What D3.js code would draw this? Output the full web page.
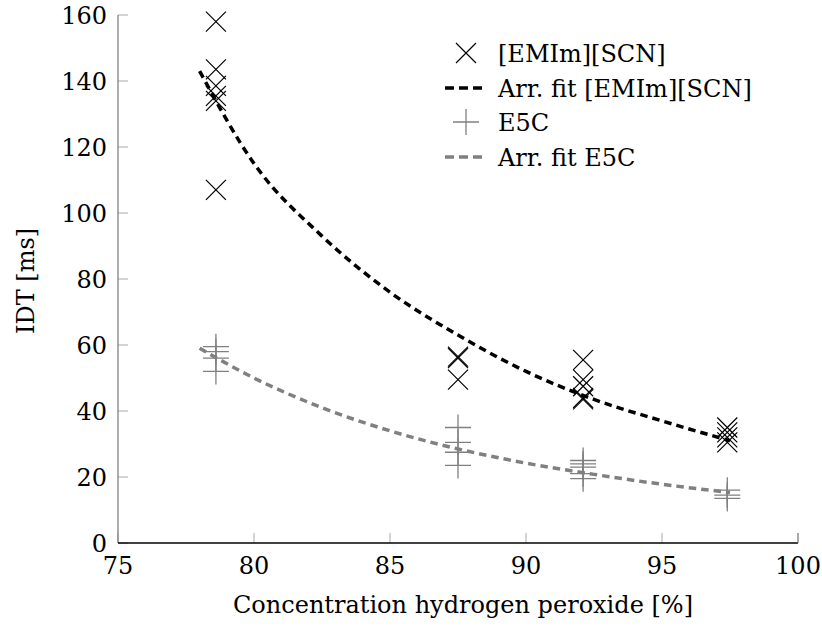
<!DOCTYPE html>
<html>
<head>
<meta charset="utf-8">
<script src="https://cdn.jsdelivr.net/npm/d3@7"></script>
<style>
  body { margin: 0; background: #fff; }
</style>
</head>
<body>
<script>
// measured IDT values
var emimX = [78.6, 78.6, 78.6, 78.6, 78.6, 78.6, 87.5, 87.5, 87.5, 92.1, 92.1, 92.1, 92.1, 92.1, 97.4, 97.4, 97.4, 97.4];
var emimY = [158, 143.5, 138.5, 135.5, 134, 107, 56.5, 56, 49.5, 55.5, 49.5, 47.5, 44, 43.5, 35, 33.5, 32, 30.5];
var e5cX = [78.6, 78.6, 78.6, 78.6, 87.5, 87.5, 87.5, 87.5, 92.1, 92.1, 92.1, 92.1, 92.1, 97.4, 97.4, 97.4];
var e5cY = [59.5, 58, 56, 52, 35, 30.5, 27.5, 23.5, 25, 24, 23, 21, 19.5, 16, 14.5, 13.5];

// fit curves
var fitX = [78, 80, 82.5, 85, 87.5, 90, 92.5, 95, 97.5];
var fitEmim = [143, 115, 93, 76, 63, 52, 43.5, 37, 31];
var fitE5c = [59, 50, 41, 34, 28.5, 24.2, 20.8, 17.8, 15.3];

var xTicks = [75, 80, 85, 90, 95, 100];
var yTicks = [0, 20, 40, 60, 80, 100, 120, 140, 160];
var legendLabels = ["[EMIm][SCN]", "Arr. fit [EMIm][SCN]", "E5C", "Arr. fit E5C"];

var width = 822, height = 628;
var gray = "#808080";
var font = "'DejaVu Serif', 'Liberation Serif', serif";

var svg = d3.select("body").append("svg")
    .attr("width", width)
    .attr("height", height)
    .style("font-family", font);

var x = d3.scaleLinear().domain([75, 100]).range([118, 798]);
var y = d3.scaleLinear().domain([0, 160]).range([543, 15]);

// ticks (inside, gray)
svg.selectAll(".xt").data(xTicks).enter().append("line")
    .attr("x1", d => x(d)).attr("x2", d => x(d))
    .attr("y1", y(0)).attr("y2", y(0) - 10)
    .attr("stroke", "#aaa").attr("stroke-width", 1);
svg.selectAll(".yt").data(yTicks).enter().append("line")
    .attr("x1", x(75)).attr("x2", x(75) + 10)
    .attr("y1", d => y(d)).attr("y2", d => y(d))
    .attr("stroke", "#aaa").attr("stroke-width", 1);

// axis lines
svg.append("line")
    .attr("x1", x(75)).attr("x2", x(75))
    .attr("y1", y(0)).attr("y2", y(160))
    .attr("stroke", gray).attr("stroke-width", 1.3);
svg.append("line")
    .attr("x1", x(75)).attr("x2", x(100))
    .attr("y1", y(0)).attr("y2", y(0))
    .attr("stroke", "#000").attr("stroke-width", 1.3);
svg.append("line")
    .attr("x1", x(100)).attr("x2", x(100))
    .attr("y1", y(0)).attr("y2", y(0) - 10)
    .attr("stroke", gray).attr("stroke-width", 1);

// tick labels
svg.selectAll(".xl").data(xTicks).enter().append("text")
    .attr("x", d => x(d)).attr("y", y(0) + 31)
    .attr("text-anchor", "middle")
    .style("font-size", "24px")
    .text(d => d);
svg.selectAll(".yl").data(yTicks).enter().append("text")
    .attr("x", x(75) - 11).attr("y", d => y(d) + 9)
    .attr("text-anchor", "end")
    .style("font-size", "24px")
    .text(d => d);

// axis titles
svg.append("text")
    .attr("x", 463).attr("y", 613)
    .attr("text-anchor", "middle")
    .style("font-size", "24px")
    .text("Concentration hydrogen peroxide [%]");
svg.append("text")
    .attr("transform", "translate(34,281) rotate(-90)")
    .attr("text-anchor", "middle")
    .style("font-size", "24px")
    .text("IDT [ms]");

// fit lines
var line = d3.line().curve(d3.curveMonotoneX);
var emimFit = fitX.map((d, i) => [x(d), y(fitEmim[i])]);
var e5cFit = fitX.map((d, i) => [x(d), y(fitE5c[i])]);

svg.append("path")
    .attr("d", line(e5cFit))
    .attr("fill", "none").attr("stroke", gray)
    .attr("stroke-width", 3.5).attr("stroke-dasharray", "7.5 5");
svg.append("path")
    .attr("d", line(emimFit))
    .attr("fill", "none").attr("stroke", "#000")
    .attr("stroke-width", 3.5).attr("stroke-dasharray", "7.5 5");

// markers
function cross(g, cx, cy) {
  var r = 10;
  g.append("path")
      .attr("d", "M" + (cx - r) + "," + (cy - r) + "L" + (cx + r) + "," + (cy + r) +
                 "M" + (cx - r) + "," + (cy + r) + "L" + (cx + r) + "," + (cy - r))
      .attr("stroke", "#000").attr("stroke-width", 1.2).attr("fill", "none");
}
function plus(g, cx, cy) {
  var r = 13;
  g.append("path")
      .attr("d", "M" + (cx - r) + "," + cy + "L" + (cx + r) + "," + cy +
                 "M" + cx + "," + (cy - r) + "L" + cx + "," + (cy + r))
      .attr("stroke", gray).attr("stroke-width", 1.3).attr("fill", "none");
}

var marks = svg.append("g");
e5cX.forEach((d, i) => plus(marks, x(d), y(e5cY[i])));
emimX.forEach((d, i) => cross(marks, x(d), y(emimY[i])));

// legend
var leg = svg.append("g");
var rowY = [53, 88, 122, 157];
cross(leg, 466, rowY[0]);
leg.append("line").attr("x1", 445).attr("x2", 485).attr("y1", rowY[1]).attr("y2", rowY[1])
    .attr("stroke", "#000").attr("stroke-width", 3.5).attr("stroke-dasharray", "9 5");
plus(leg, 466, rowY[2]);
leg.append("line").attr("x1", 445).attr("x2", 485).attr("y1", rowY[3]).attr("y2", rowY[3])
    .attr("stroke", gray).attr("stroke-width", 3.5).attr("stroke-dasharray", "9 5");
leg.selectAll("text").data(legendLabels).enter().append("text")
    .attr("x", 498).attr("y", (d, i) => rowY[i] + 9)
    .style("font-size", "24px")
    .text(d => d);
</script>
</body>
</html>
